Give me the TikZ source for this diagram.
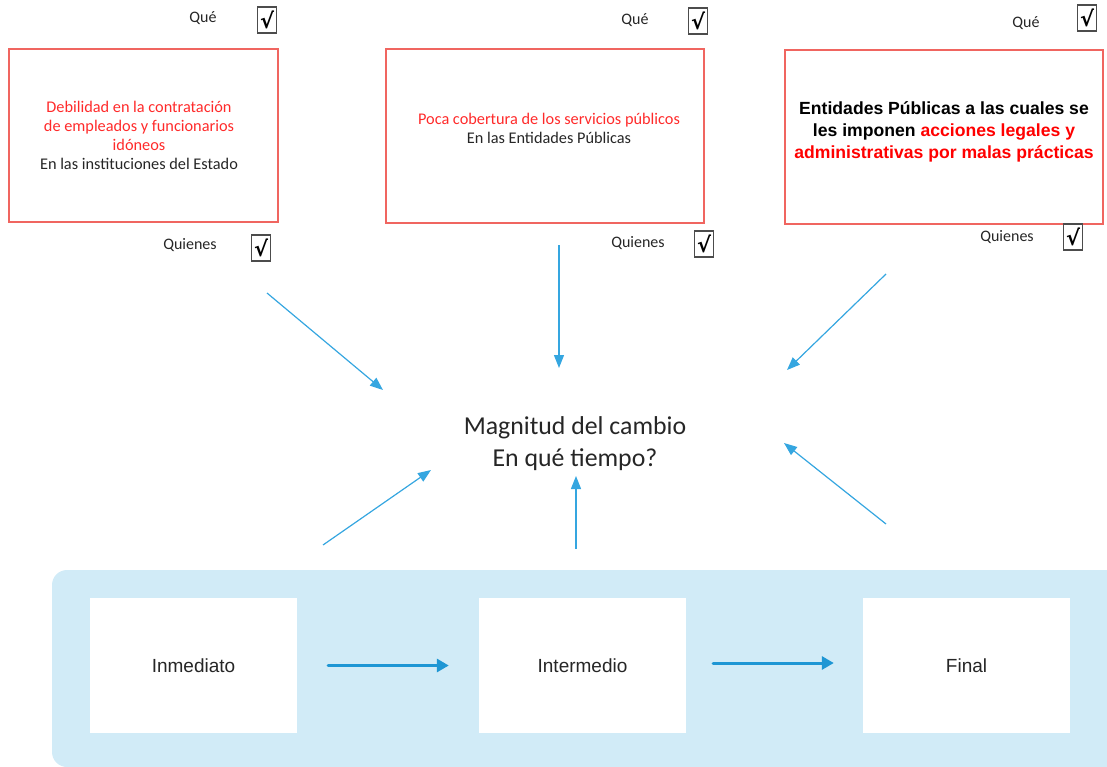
\documentclass[tikz,border=0pt]{standalone}
\usepackage{fontspec}
\setmainfont{Carlito}
\newfontfamily\arialf{Liberation Sans}
\newfontfamily\dejav{DejaVu Sans}
\usetikzlibrary{arrows.meta}
\definecolor{redline}{HTML}{F06560}
\definecolor{redtext}{HTML}{FF2A2A}
\definecolor{pureRed}{HTML}{FF0000}
\definecolor{bluearrow}{HTML}{35A6E0}
\definecolor{bluethick}{HTML}{1E96D4}
\definecolor{bgblue}{HTML}{D1EBF7}
\definecolor{txt}{HTML}{262626}
\begin{document}
\begin{tikzpicture}[x=1pt,y=-1pt,
  probbox/.style={draw=redline,line width=1.2pt,inner sep=0pt},
  probtext/.style={align=center,text=txt,font=\fontsize{16.3}{19}\selectfont},
  lbl/.style={text=txt,font=\fontsize{16}{17}\selectfont,inner sep=0pt},
  chk/.style={draw=black!70,line width=1.4pt,minimum width=19pt,minimum height=26pt,inner sep=0pt,
    font=\dejav\bfseries\fontsize{21}{21}\selectfont,text=black},
  stagebox/.style={fill=white,minimum width=207pt,minimum height=135pt,inner sep=0pt,
    font=\arialf\fontsize{19}{20}\selectfont,text=txt},
  thinarrow/.style={draw=bluearrow,line width=1.2pt,-{Triangle[length=13pt,width=10pt]}},
  thickarrow/.style={draw=bluethick,line width=3pt,line cap=round,-{Triangle[length=12pt,width=13pt]}}
]
\useasboundingbox (0,0) rectangle (1107,767);

% background band
\fill[bgblue,rounded corners=15pt] (52,570) rectangle (1135,767);

% problem boxes
\node[probbox,minimum width=269pt,minimum height=173pt] (box1) at (143.5,135.5) {};
\node[probbox,minimum width=318pt,minimum height=174pt] (box2) at (545,136) {};
\node[probbox,minimum width=318pt,minimum height=174pt] (box3) at (944,137) {};

\node[probtext] (t1) at (139,135) {\textcolor{redtext}{Debilidad en la contratación}\\
  \textcolor{redtext}{de empleados y funcionarios}\\
  \textcolor{redtext}{idóneos}\\
  En las instituciones del Estado};
\node[probtext] (t2) at (549,128) {\textcolor{redtext}{Poca cobertura de los servicios públicos}\\
  En las Entidades Públicas};
\node[probtext,font=\arialf\bfseries\fontsize{17.6}{22}\selectfont,text=black] (t3) at (944,132)
  {Entidades Públicas a las cuales se\\
   les imponen \textcolor{pureRed}{acciones legales y}\\
   \textcolor{pureRed}{administrativas por malas prácticas}};

% Qué / Quienes labels with check boxes
\node[lbl] (q1) at (203,18) {Qué};
\node[chk] (c1) at (267,20) {√};
\node[lbl] (q2) at (635,20) {Qué};
\node[chk] (c2) at (698,21) {√};
\node[lbl] (q3) at (1026,23) {Qué};
\node[chk] (c3) at (1087,18) {√};
\node[lbl] (w1) at (190,245) {Quienes};
\node[chk] (d1) at (261,248) {√};
\node[lbl] (w2) at (638,243) {Quienes};
\node[chk] (d2) at (704,244) {√};
\node[lbl] (w3) at (1007,237) {Quienes};
\node[chk] (d3) at (1073,237) {√};

% centre text
\node[align=center,text=txt,font=\fontsize{25.8}{32}\selectfont] (mag) at (575,444)
  {Magnitud del cambio\\En qué tiempo?};

% stage boxes
\node[stagebox] (inm) at (193.5,665.5) {Inmediato};
\node[stagebox] (int) at (582.5,665.5) {Intermedio};
\node[stagebox] (fin) at (966.5,665.5) {Final};

% thick arrows between stages
\draw[thickarrow,shorten <=31pt,shorten >=30pt] (inm.east) -- (int.west);
\draw[thickarrow,shorten <=27pt,shorten >=29pt] ([yshift=2.5pt]int.east) -- ([yshift=2.5pt]fin.west);

% thin arrows toward the centre
\coordinate (a1s) at (267,293); \coordinate (a1e) at (383,390);
\coordinate (a2s) at (559,245); \coordinate (a2e) at (559,368);
\coordinate (a3s) at (886,274); \coordinate (a3e) at (787,370);
\coordinate (a4s) at (886,524); \coordinate (a4e) at (784,443);
\coordinate (a5s) at (576,549); \coordinate (a5e) at (576,476);
\coordinate (a6s) at (323,545); \coordinate (a6e) at (431,470);
\draw[thinarrow] (a1s) -- (a1e);
\draw[thinarrow] (a2s) -- (a2e);
\draw[thinarrow] (a3s) -- (a3e);
\draw[thinarrow] (a4s) -- (a4e);
\draw[thinarrow] (a5s) -- (a5e);
\draw[thinarrow] (a6s) -- (a6e);
\end{tikzpicture}
\end{document}
